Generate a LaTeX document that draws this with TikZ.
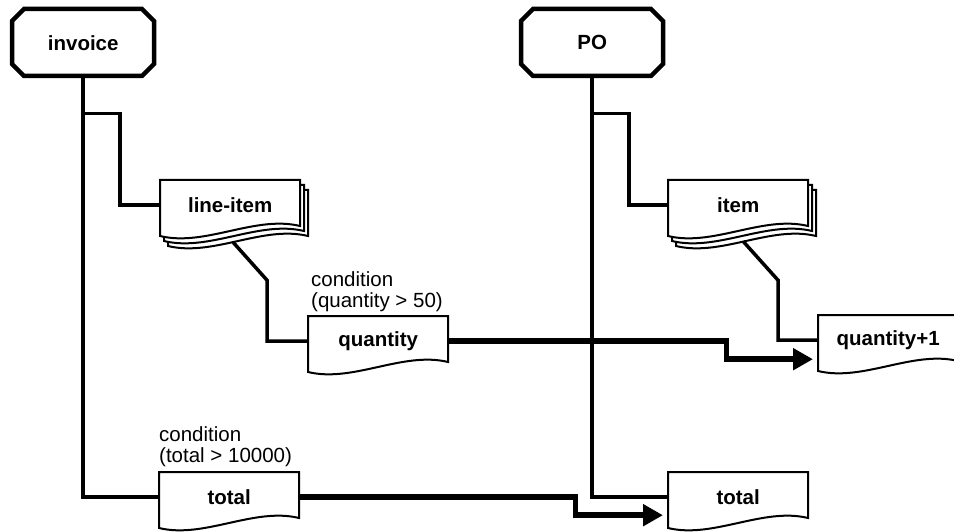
\documentclass[tikz,border=0pt]{standalone}
\usepackage{fontspec}
\setmainfont{Liberation Sans}
\usetikzlibrary{calc,arrows.meta}
\pgfdeclarelayer{background}
\pgfsetlayers{background,main}
\tikzset{
  boxnode/.style={draw=none, inner sep=0pt, minimum width=140pt, minimum height=50pt, anchor=north west, font=\fontsize{20.5}{24}\selectfont\bfseries},
  headnode/.style={draw=none, inner sep=0pt, minimum width=142pt, minimum height=67pt, anchor=north west, font=\fontsize{20.5}{24}\selectfont\bfseries},
  docline/.style={draw=black, line width=2pt, fill=white, line join=miter},
  octline/.style={draw=black, line width=4.5pt, line join=miter},
  conn/.style={line width=3.5pt, line join=miter},
  bigarrow/.style={line width=5.5pt, line join=miter, -{Triangle[length=20pt,width=21pt]}},
  cond/.style={inner sep=0pt, anchor=south west, align=left, font=\fontsize{20.5}{21}\selectfont},
}
\newcommand\docshape[3]{%
  \begin{scope}[shift={(#1.north west)}, shift={(#2,#3)}]
    \draw[docline] (0,0) -- (140,0) -- (140,46) .. controls (95,35) and (45,67) .. (0,56) -- cycle;
  \end{scope}}
\newcommand\octshape[1]{%
  \begin{scope}[shift={(#1.north west)}]
    \draw[octline] (12,0) -- (130,0) -- (142,12) -- (142,55) -- (130,67) -- (12,67) -- (0,55) -- (0,12) -- cycle;
  \end{scope}}
\begin{document}
\begin{tikzpicture}[x=1pt, y=-1pt]
\useasboundingbox (0,0) rectangle (954,532);
% nodes
\node[headnode] (inv) at (12,9) {invoice};
\node[headnode] (po) at (521,9) {PO};
\node[boxnode] (li) at (160,180) {line-item};
\node[boxnode] (q) at (308,316) {quantity};
\node[boxnode] (t1) at (159,472) {total};
\node[boxnode] (it) at (668,180) {item};
\node[boxnode] (q2) at (818,315) {quantity+1};
\node[boxnode] (t2) at (668,472) {total};
\node[cond] (c1) at (311,312) {condition\\(quantity > 50)};
\node[cond] (c2) at (159,467) {condition\\(total > 10000)};
% shapes
\begin{pgfonlayer}{background}
  \docshape{li}{8}{10}
  \docshape{li}{4}{5}
  \docshape{li}{0}{0}
  \docshape{it}{8}{10}
  \docshape{it}{4}{5}
  \docshape{it}{0}{0}
  \docshape{q}{0}{0}
  \docshape{q2}{0}{0}
  \docshape{t1}{0}{0}
  \docshape{t2}{0}{0}
\end{pgfonlayer}
\octshape{inv}
\octshape{po}
% connectors
\draw[conn] (inv.south) |- (t1.west);
\draw[conn] ($(inv.south)+(0,37)$) -- ++(37,0) |- (li.west);
\draw[conn] ($(li.south)+(3,12)$) -- ++(34,38) |- (q.west);
\draw[conn] (po.south) |- (t2.west);
\draw[conn] ($(po.south)+(0,37)$) -- ++(37,0) |- (it.west);
\draw[conn] ($(it.south)+(5,11)$) -- ++(35,39) |- (q2.west);
% arrows
\draw[bigarrow] (q.east) -| ++(278,18) -- ($(q2.west)+(-5,19)$);
\draw[bigarrow] (t1.east) -| ++(276,18) -- ($(t2.west)+(-5,18)$);
\end{tikzpicture}
\end{document}
